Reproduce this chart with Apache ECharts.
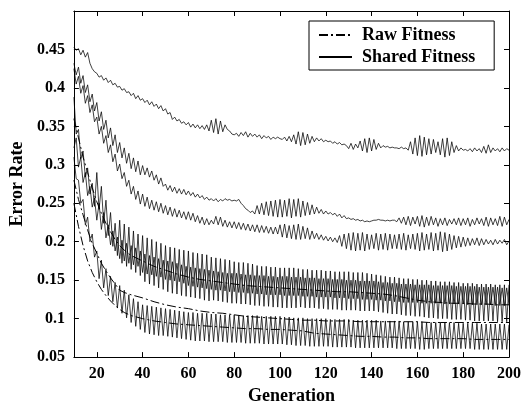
<!DOCTYPE html>
<html><head><meta charset="utf-8">
<script src="https://cdn.jsdelivr.net/npm/echarts@6/dist/echarts.min.js"></script>
<style>html,body{margin:0;padding:0;background:#fff}#c{width:524px;height:410px}</style>
</head><body><div id="c"></div>
<script>
const genStart = 10, genEnd = 200;
const xTicks = [20,40,60,80,100,120,140,160,180,200];
const legendNames = ['Raw Fitness','Shared Fitness'];

const sharedA = [
.453,.449,.451,.443,.449,.440,.446,.432,.425,.421,
.419,.414,.416,.410,.413,.407,.410,.404,.406,.401,
.402,.397,.399,.394,.395,.390,.393,.386,.390,.384,
.386,.381,.384,.378,.382,.376,.379,.373,.377,.370,
.373,.366,.368,.359,.362,.357,.359,.354,.356,.352,
.355,.349,.353,.348,.352,.347,.351,.346,.352,.344,
.358,.342,.360,.340,.357,.343,.352,.346,.344,.340,
.339,.341,.337,.342,.338,.343,.336,.341,.337,.340,
.336,.339,.334,.338,.335,.337,.333,.336,.334,.336,
.334,.333,.336,.331,.337,.330,.339,.327,.343,.325,
.342,.326,.340,.328,.337,.330,.335,.331,.334,.330,
.332,.330,.331,.328,.330,.327,.329,.326,.327,.325,
.321,.328,.320,.327,.322,.331,.318,.334,.316,.335,
.318,.333,.320,.328,.322,.325,.323,.324,.322,.323,
.322,.322,.321,.323,.321,.322,.319,.330,.314,.335,
.312,.338,.311,.336,.313,.334,.314,.333,.316,.330,
.313,.334,.310,.335,.312,.330,.316,.325,.318,.322,
.319,.320,.318,.321,.317,.322,.318,.321,.316,.324,
.315,.326,.316,.322,.318,.321,.317,.322,.318,.321,
.319];

const sharedB = [
.432,.417,.427,.406,.416,.394,.404,.382,.392,.370,
.381,.357,.369,.346,.358,.335,.348,.325,.339,.316,
.329,.309,.322,.302,.315,.295,.309,.291,.305,.287,
.299,.287,.296,.284,.292,.280,.287,.275,.283,.272,
.275,.267,.273,.265,.271,.263,.269,.262,.268,.261,
.266,.260,.264,.258,.262,.257,.260,.255,.258,.254,
.256,.253,.256,.252,.255,.253,.256,.254,.255,.253,
.254,.253,.255,.250,.247,.243,.241,.238,.240,.236,
.247,.236,.250,.235,.252,.234,.253,.233,.254,.232,
.255,.232,.254,.233,.256,.231,.255,.233,.256,.232,
.253,.234,.251,.235,.248,.236,.245,.237,.242,.236,
.240,.236,.238,.235,.237,.233,.236,.231,.234,.230,
.231,.229,.230,.228,.229,.227,.228,.226,.227,.226,
.227,.228,.228,.229,.228,.228,.227,.228,.227,.228,
.228,.226,.231,.224,.232,.222,.233,.221,.232,.223,
.233,.220,.234,.219,.232,.221,.233,.222,.231,.220,
.230,.222,.231,.221,.229,.223,.230,.222,.231,.221,
.230,.222,.231,.220,.229,.222,.231,.223,.230,.221,
.232,.220,.231,.222,.230,.221,.233,.220,.232,.222,
.229];

const sharedC = [
.425,.405,.415,.393,.403,.380,.390,.368,.378,.356,
.362,.340,.350,.328,.338,.316,.326,.304,.314,.292,
.301,.282,.290,.272,.280,.262,.272,.255,.266,.249,
.262,.246,.258,.243,.254,.241,.252,.239,.250,.237,
.247,.235,.245,.233,.243,.232,.241,.231,.239,.229,
.239,.228,.237,.226,.234,.224,.232,.222,.230,.222,
.228,.223,.233,.222,.232,.220,.228,.219,.226,.218,
.226,.217,.225,.216,.224,.215,.223,.214,.222,.213,
.222,.212,.221,.212,.220,.211,.219,.210,.219,.210,
.222,.206,.223,.205,.221,.204,.222,.203,.223,.203,
.220,.204,.218,.203,.214,.204,.211,.203,.209,.202,
.207,.201,.206,.200,.205,.199,.208,.194,.210,.191,
.211,.189,.212,.188,.211,.189,.212,.188,.210,.190,
.209,.191,.211,.189,.210,.190,.211,.189,.210,.191,
.209,.191,.210,.190,.211,.189,.209,.191,.210,.190,
.211,.188,.212,.189,.210,.190,.212,.188,.211,.189,
.213,.187,.212,.188,.210,.190,.208,.192,.207,.193,
.206,.194,.205,.195,.204,.196,.205,.195,.204,.196,
.203,.197,.202,.196,.203,.197,.202,.198,.203,.196,
.201];

const sharedD = [
.388,.340,.346,.308,.318,.284,.296,.262,.276,.246,
.290,.242,.272,.224,.254,.208,.238,.194,.224,.182,
.228,.172,.223,.168,.219,.164,.214,.160,.210,.156,
.208,.148,.205,.145,.203,.143,.200,.140,.198,.138,
.195,.135,.193,.133,.192,.132,.190,.130,.189,.129,
.188,.128,.186,.127,.185,.126,.184,.124,.183,.123,
.180,.124,.179,.123,.178,.122,.177,.121,.176,.120,
.174,.120,.173,.119,.173,.119,.172,.118,.171,.117,
.169,.117,.168,.116,.168,.116,.167,.115,.167,.115,
.166,.114,.166,.114,.166,.114,.166,.114,.165,.115,
.164,.114,.164,.114,.163,.114,.163,.113,.163,.113,
.162,.112,.162,.112,.161,.112,.161,.111,.161,.111,
.161,.111,.160,.111,.160,.110,.160,.110,.159,.110,
.158,.110,.157,.109,.156,.108,.155,.107,.154,.106,
.154,.106,.153,.105,.152,.104,.152,.104,.151,.103,
.151,.103,.150,.102,.150,.101,.149,.101,.149,.100,
.148,.100,.148,.100,.148,.099,.147,.099,.147,.099,
.146,.098,.146,.098,.146,.097,.145,.097,.145,.097,
.145,.097,.145,.097,.144,.096,.144,.096,.144,.096,
.144];

const sharedE = [
.322,.335,.297,.310,.277,.290,.260,.272,.245,.257,
.228,.250,.216,.238,.205,.222,.196,.214,.188,.206,
.178,.202,.175,.198,.172,.195,.170,.192,.168,.188,
.160,.184,.158,.182,.157,.180,.155,.178,.154,.176,
.151,.175,.150,.174,.149,.172,.148,.170,.146,.168,
.143,.167,.142,.166,.141,.165,.140,.164,.139,.163,
.138,.162,.137,.161,.137,.160,.136,.159,.135,.159,
.135,.159,.134,.158,.134,.157,.133,.157,.133,.156,
.132,.156,.132,.156,.131,.155,.131,.155,.131,.154,
.131,.155,.130,.155,.130,.154,.130,.154,.130,.154,
.129,.153,.129,.153,.129,.153,.128,.152,.128,.152,
.128,.152,.128,.151,.127,.151,.127,.151,.127,.150,
.126,.150,.126,.150,.126,.149,.125,.149,.125,.149,
.125,.149,.124,.148,.124,.147,.123,.147,.123,.146,
.122,.146,.122,.145,.121,.145,.121,.145,.121,.144,
.121,.144,.120,.144,.120,.144,.120,.143,.120,.143,
.120,.143,.119,.143,.119,.143,.119,.142,.119,.142,
.119,.142,.118,.142,.118,.142,.118,.141,.118,.141,
.118,.141,.118,.141,.117,.141,.117,.140,.117,.140,
.118];

const sharedF = [
.310,.282,.280,.250,.255,.222,.232,.200,.210,.180,
.188,.152,.176,.140,.165,.130,.155,.122,.147,.114,
.143,.107,.137,.101,.131,.095,.126,.090,.122,.086,
.118,.082,.117,.080,.116,.079,.115,.078,.114,.078,
.113,.077,.112,.076,.111,.075,.110,.074,.109,.073,
.108,.072,.108,.071,.107,.071,.107,.071,.107,.070,
.106,.070,.106,.070,.105,.070,.105,.069,.105,.069,
.105,.069,.104,.069,.104,.068,.104,.068,.104,.068,
.104,.068,.103,.067,.103,.067,.103,.067,.103,.067,
.103,.067,.102,.066,.102,.066,.101,.065,.101,.065,
.101,.065,.100,.064,.100,.064,.100,.064,.100,.064,
.100,.064,.099,.063,.099,.063,.099,.063,.099,.063,
.099,.063,.098,.062,.098,.062,.098,.062,.098,.062,
.098,.062,.098,.062,.097,.062,.097,.062,.097,.062,
.097,.061,.097,.061,.096,.061,.096,.061,.096,.061,
.096,.060,.096,.060,.095,.061,.095,.061,.095,.061,
.095,.061,.095,.061,.095,.061,.095,.061,.094,.061,
.094,.061,.094,.061,.094,.060,.094,.060,.093,.060,
.093,.060,.093,.060,.093,.060,.093,.060,.093,.060,
.092];

const rawGens = [10,12,14,16,18,20,22,24,26,28,30,32,35,40,45,50,55,60,65,70,75,80,85,90,95,100,105,110,115,120,125,130,135,140,145,150,155,160,165,170,175,180,185,190,195,200];
const rawA = [.360,.335,.310,.290,.270,.252,.237,.224,.213,.203,.195,.189,.182,.175,.168,.163,.158,.154,.151,.149,.147,.145,.143,.142,.141,.140,.139,.138,.137,.136,.135,.135,.134,.133,.132,.130,.127,.124,.122,.121,.120,.120,.119,.119,.118,.118];
const rawB = [.280,.255,.235,.215,.198,.185,.172,.162,.153,.145,.137,.134,.131,.127,.122,.118,.115,.113,.110,.108,.107,.105,.103,.102,.101,.100,.099,.098,.098,.097,.097,.097,.096,.096,.096,.096,.096,.096,.095,.095,.095,.095,.095,.095,.095,.095];
const rawC = [.250,.220,.195,.175,.160,.148,.138,.130,.123,.117,.112,.108,.104,.100,.097,.095,.093,.092,.091,.090,.089,.088,.087,.087,.086,.086,.085,.084,.081,.080,.079,.078,.077,.077,.076,.076,.075,.075,.074,.074,.074,.074,.073,.073,.073,.073];

const gens = [];
for (let g = genStart; g <= genEnd; g++) gens.push(g);

const font = '"Liberation Serif", "DejaVu Serif", serif';
const dashDot = [9, 3, 2, 3];

function sharedSeries(arr) {
  return { name: 'Shared Fitness', type: 'line', symbol: 'none', showSymbol: false, silent: true,
    data: gens.map((g, i) => [g, arr[i]]),
    itemStyle: { color: '#000' },
    lineStyle: { color: '#000', width: 0.75, type: 'solid' } };
}
function rawSeries(arr) {
  return { name: 'Raw Fitness', type: 'line', symbol: 'none', showSymbol: false, silent: true,
    data: rawGens.map((g, i) => [g, arr[i]]),
    itemStyle: { color: '#000' },
    lineStyle: { color: '#000', width: 1, type: dashDot } };
}

const chart = echarts.init(document.getElementById('c'), null, { renderer: 'canvas' });
const axisLineStyle = { show: true, lineStyle: { color: '#000', width: 1 } };
chart.setOption({
  animation: false,
  backgroundColor: '#fff',
  grid: { left: 72, right: 13, top: 11, bottom: 50, containLabel: false },
  legend: {
    data: legendNames,
    orient: 'vertical', left: 309, top: 21,
    borderColor: '#000', borderWidth: 1, borderRadius: 0,
    padding: [5, 19, 4, 9], itemGap: 4, itemWidth: 33, itemHeight: 14,
    itemStyle: { opacity: 0, borderWidth: 0 },
    lineStyle: { color: '#000' },
    textStyle: { fontFamily: font, fontWeight: 'bold', fontSize: 18, color: '#000', padding: [0, 0, 0, 5] }
  },
  xAxis: [{
    type: 'value', min: genStart, max: genEnd, position: 'bottom',
    name: 'Generation', nameLocation: 'middle', nameGap: 28,
    nameTextStyle: { fontFamily: font, fontWeight: 'bold', fontSize: 18, color: '#000' },
    axisLine: axisLineStyle, splitLine: { show: false },
    axisTick: { inside: true, length: 5, customValues: xTicks, lineStyle: { color: '#000' } },
    axisLabel: { customValues: xTicks, margin: 9, fontFamily: font, fontWeight: 'bold', fontSize: 16, color: '#000' }
  }, {
    type: 'value', min: genStart, max: genEnd, position: 'top',
    axisLine: axisLineStyle, splitLine: { show: false },
    axisTick: { inside: true, length: 5, customValues: xTicks, lineStyle: { color: '#000' } },
    axisLabel: { show: false }
  }],
  yAxis: [{
    type: 'value', min: 0.05, max: 0.5, interval: 0.05, position: 'left',
    name: 'Error Rate', nameLocation: 'middle', nameGap: 47, nameRotate: 90,
    nameTextStyle: { fontFamily: font, fontWeight: 'bold', fontSize: 18, color: '#000' },
    axisLine: axisLineStyle, splitLine: { show: false },
    axisTick: { inside: true, length: 5, lineStyle: { color: '#000' } },
    axisLabel: { margin: 9, fontFamily: font, fontWeight: 'bold', fontSize: 16, color: '#000',
      formatter: v => v > 0.48 ? '' : String(+v.toFixed(2)) }
  }, {
    type: 'value', min: 0.05, max: 0.5, interval: 0.05, position: 'right',
    axisLine: axisLineStyle, splitLine: { show: false },
    axisTick: { inside: true, length: 5, lineStyle: { color: '#000' } },
    axisLabel: { show: false }
  }],
  series: [
    sharedSeries(sharedA), sharedSeries(sharedB), sharedSeries(sharedC),
    sharedSeries(sharedD), sharedSeries(sharedE), sharedSeries(sharedF),
    rawSeries(rawA), rawSeries(rawB), rawSeries(rawC)
  ]
});
</script></body></html>
